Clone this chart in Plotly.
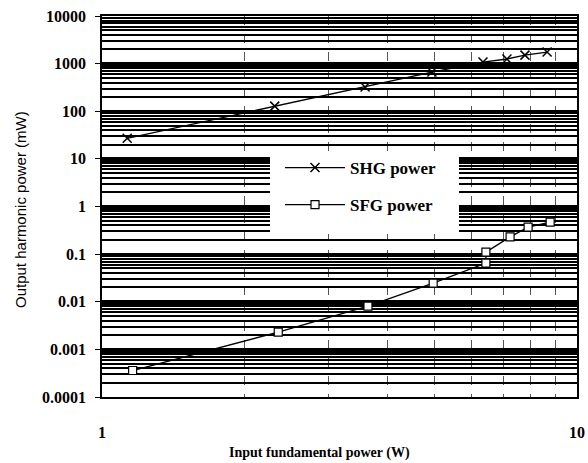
import plotly.graph_objects as go

shg_x = [1.13, 2.31, 3.58, 4.95, 6.34, 7.12, 7.77, 8.65]
shg_y = [27, 128, 323, 665, 1080, 1250, 1510, 1750]
sfg_x = [1.16, 2.35, 3.63, 4.98, 6.43, 6.43, 7.23, 7.89, 8.78]
sfg_y = [0.00036, 0.0023, 0.0081, 0.0245, 0.065, 0.11, 0.23, 0.37, 0.47]

y_ticks = [0.0001, 0.001, 0.01, 0.1, 1, 10, 100, 1000, 10000]
y_labels = ["0.0001", "0.001", "0.01", "0.1", "1", "10", "100", "1000", "10000"]
x_ticks = [1, 10]
x_labels = ["1", "10"]

serif = "Liberation Serif"
sans = "Liberation Sans"

L, R, T, B = 102, 577, 16, 397
W, H = 588, 463


def px(x):
    return (x - L) / (R - L)


def py(y):
    return (B - y) / (B - T)


fig = go.Figure()
fig.add_trace(go.Scatter(
    x=shg_x, y=shg_y, mode="lines+markers", name="SHG power", legendgroup="shg",
    line=dict(color="black", width=1.3),
    marker=dict(symbol="x-thin", size=9, line=dict(color="black", width=1.5)),
))
fig.add_trace(go.Scatter(
    x=sfg_x, y=sfg_y, mode="lines+markers", name="SFG power", legendgroup="sfg",
    line=dict(color="black", width=1.3),
    marker=dict(symbol="square", size=8, color="white", line=dict(color="black", width=1.2)),
))

# white legend box
fig.add_shape(type="rect", xref="paper", yref="paper",
              x0=px(270), x1=px(459), y0=py(234), y1=py(153),
              fillcolor="white", line=dict(width=0), layer="above")

fig.add_annotation(text="Input fundamental power (W)", xref="paper", yref="paper",
                   x=px(319), y=py(453), xanchor="center", yanchor="middle",
                   showarrow=False, font=dict(family=serif, size=14, weight="bold"))
fig.add_annotation(text="Output harmonic power (mW)", xref="paper", yref="paper",
                   x=px(20), y=py(210), xanchor="center", yanchor="middle", textangle=-90,
                   showarrow=False, font=dict(family=sans, size=15))

fig.update_layout(
    width=W, height=H,
    margin=dict(l=L, r=W - R, t=T, b=H - B, autoexpand=False),
    plot_bgcolor="white", paper_bgcolor="white",
    font=dict(family=serif, color="black", size=13),
    showlegend=True,
    legend=dict(x=px(280), y=py(150), xanchor="left", yanchor="top",
                bgcolor="rgba(255,255,255,0)", borderwidth=0,
                font=dict(family=serif, size=17, color="black", weight="bold"),
                traceorder="grouped", tracegroupgap=12, itemwidth=60),
    xaxis=dict(
        type="log", range=[0, 1],
        tickvals=x_ticks, ticktext=x_labels,
        tickfont=dict(family=serif, size=16, weight="bold"),
        ticks="", ticklabelstandoff=20,
        showgrid=False,
        showline=True, linecolor="black", linewidth=1.5, mirror=True,
        minor=dict(tickvals=[2, 3, 4, 5, 6, 7, 8, 9], showgrid=True, gridcolor="#555",
                   griddash="dash", gridwidth=1, ticks=""),
    ),
    yaxis=dict(
        type="log", range=[-4, 4],
        tickvals=y_ticks, ticktext=y_labels,
        tickfont=dict(family=serif, size=16, weight="bold"),
        ticks="outside", ticklen=5, tickcolor="black", ticklabelstandoff=6,
        showgrid=True, gridcolor="black", gridwidth=2.5,
        showline=True, linecolor="black", linewidth=1.5, mirror=True,
        minor=dict(dtick="D1", showgrid=True, gridcolor="black", gridwidth=2, ticks=""),
    ),
)

fig.write_html("out.html")
